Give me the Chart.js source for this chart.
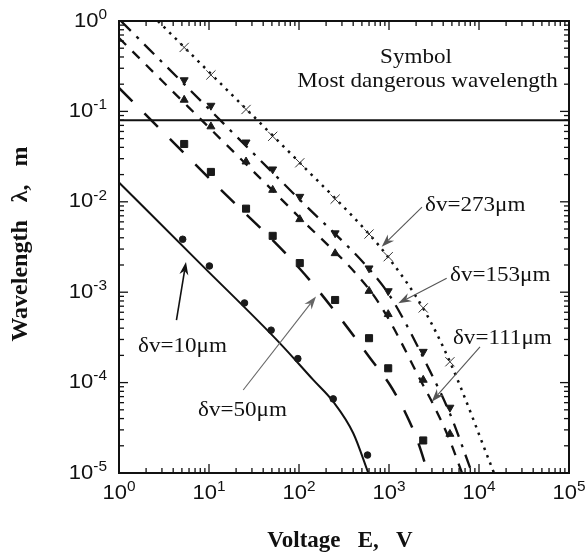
<!DOCTYPE html>
<html><head><meta charset="utf-8">
<script src="https://cdn.jsdelivr.net/npm/chart.js@4/dist/chart.umd.min.js"></script>
<style>html,body{margin:0;padding:0;background:#fff;}#wrap{width:585px;height:558px;}</style>
</head><body><div id="wrap"><canvas id="c" width="585" height="558"></canvas></div>
<script>
// ---------- data ----------
// measured points (voltage E [V], most dangerous wavelength λ [m])
const circE = [5.1, 10.1, 24.8, 49, 97, 240, 577];
const circL = [3.85e-3, 1.95e-3, 7.6e-4, 3.8e-4, 1.84e-4, 6.6e-5, 1.58e-5];
const markE = [5.3, 10.5, 25.8, 51, 102, 252, 600, 980, 2400, 4750];
const sqL    = [0.0436, 0.0214, 8.4e-3, 4.2e-3, 2.1e-3, 8.2e-4, 3.1e-4, 1.44e-4, 2.29e-5];
const triUpL = [0.134, 0.068, 0.0278, 0.0135, 6.4e-3, 2.69e-3, 1.03e-3, 5.7e-4, 1.07e-4, 2.7e-5];
const triDnL = [0.222, 0.116, 0.0455, 0.0229, 0.0114, 4.5e-3, 1.84e-3, 1.03e-3, 2.2e-4, 5.3e-5];
const crossL = [0.51, 0.253, 0.105, 0.053, 0.027, 0.0107, 4.4e-3, 2.47e-3, 6.7e-4, 1.7e-4];
// theoretical curves
const c10E  = [1, 8, 61.5, 144, 240, 401, 589];
const c10L  = [0.01636, 2.07e-3, 2.72e-4, 1.07e-4, 6.15e-5, 2.75e-5, 1e-5];
const c50E  = [1, 10, 102.6, 286, 615, 1026, 1506, 2100, 2710];
const c50L  = [0.1815, 0.0183, 1.807e-3, 5.19e-4, 1.87e-4, 9.4e-5, 4.73e-5, 2.2e-5, 1e-5];
const c111E = [1, 10, 102.6, 600, 975, 2388, 3006, 4720, 6470];
const c111L = [0.649, 0.0664, 6.62e-3, 1.08e-3, 5.19e-4, 9.4e-5, 6.1e-5, 2.32e-5, 1e-5];
const c153E = [1.05, 10, 102.6, 600, 975, 1506, 2415, 4720, 8360];
const c153L = [1, 0.1063, 0.01047, 1.81e-3, 9.8e-4, 4.68e-4, 1.87e-4, 4.61e-5, 1e-5];
const c273E = [2.71, 10, 102.6, 600, 975, 2388, 4760, 14690];
const c273L = [1, 0.273, 0.02685, 4.4e-3, 2.45e-3, 6.68e-4, 1.69e-4, 1e-5];
const dangerE = [1, 1e5];
const dangerL = [0.08, 0.08];
// tick label exponents
const xExp = [0, 1, 2, 3, 4, 5];
const yExp = [-5, -4, -3, -2, -1, 0];

const zip = (a, b) => a.map((v, i) => ({x: v, y: b[i]}));

// ---------- annotations (data coordinates) ----------
const notes = [
  {t: 'Symbol', E: 1995, L: 0.340, align: 'center'},
  {t: 'Most dangerous wavelength', E: 2679, L: 0.186, align: 'center'},
  {t: 'δv=273μm', E: 2512, L: 7.91e-3, align: 'left'},
  {t: 'δv=153μm', E: 4762, L: 1.33e-3, align: 'left'},
  {t: 'δv=111μm', E: 5140, L: 2.67e-4, align: 'left'},
  {t: 'δv=10μm', E: 1.626, L: 2.18e-4, align: 'left'},
  {t: 'δv=50μm', E: 7.55, L: 4.27e-5, align: 'left'}
];
const arrows = [
  {E1: 2327, L1: 8.75e-3, E2: 829, L2: 3.18e-3, c: '#555', w: 1.1},
  {E1: 4375, L1: 1.425e-3, E2: 1268, L2: 7.54e-4, c: '#555', w: 1.1},
  {E1: 10260, L1: 2.49e-4, E2: 2981, L2: 6.15e-5, c: '#555', w: 1.1},
  {E1: 4.35, L1: 4.92e-4, E2: 5.55, L2: 2.16e-3, c: '#111', w: 1.6},
  {E1: 24.0, L1: 8.28e-5, E2: 154.5, L2: 8.96e-4, c: '#666', w: 1.1}
];

function stretchText(ctx, s, x, y, sx, align) {
  const w = ctx.measureText(s).width * sx;
  let x0 = x;
  if (align === 'center') x0 = x - w / 2;
  else if (align === 'right') x0 = x - w;
  ctx.save(); ctx.translate(x0, y); ctx.scale(sx, 1);
  ctx.textAlign = 'left'; ctx.fillText(s, 0, 0); ctx.restore();
  return w;
}
function arrow(ctx, x1, y1, x2, y2, color, w) {
  const ang = Math.atan2(y2 - y1, x2 - x1);
  const L = 13, H = 4.5, N = 4;
  ctx.save(); ctx.strokeStyle = color; ctx.fillStyle = color; ctx.lineWidth = w;
  ctx.beginPath(); ctx.moveTo(x1, y1);
  ctx.lineTo(x2 - Math.cos(ang) * (L - N), y2 - Math.sin(ang) * (L - N)); ctx.stroke();
  ctx.translate(x2, y2); ctx.rotate(ang);
  ctx.beginPath(); ctx.moveTo(0, 0); ctx.lineTo(-L, -H); ctx.lineTo(-L + N, 0); ctx.lineTo(-L, H);
  ctx.closePath(); ctx.fill();
  ctx.restore();
}

const deco = {
  id: 'deco',
  afterDraw(chart) {
    const {ctx, chartArea: a, scales: {x, y}} = chart;
    ctx.save();
    ctx.strokeStyle = '#111'; ctx.fillStyle = '#111';
    // frame
    ctx.lineWidth = 2;
    ctx.strokeRect(a.left, a.top, a.right - a.left, a.bottom - a.top);
    // inward ticks on all four sides
    ctx.lineWidth = 1.3;
    const seg = (x1, y1, x2, y2) => { ctx.beginPath(); ctx.moveTo(x1, y1); ctx.lineTo(x2, y2); ctx.stroke(); };
    for (let d = 0; d < 5; d++) for (let m = 1; m < 10; m++) {
      if (d === 0 && m === 1) continue;
      const px = x.getPixelForValue(Math.pow(10, d) * m);
      const len = m === 1 ? 9 : 5;
      seg(px, a.bottom, px, a.bottom - len); seg(px, a.top, px, a.top + len);
    }
    for (let d = -5; d < 0; d++) for (let m = 1; m < 10; m++) {
      if (d === -5 && m === 1) continue;
      const py = y.getPixelForValue(Math.pow(10, d) * m);
      const len = m === 1 ? 9 : 5;
      seg(a.left, py, a.left + len, py); seg(a.right, py, a.right - len, py);
    }
    // tick labels 10^n
    const base = '20px "Liberation Sans", Arial, sans-serif';
    const sup = '14px "Liberation Sans", Arial, sans-serif';
    const sx = 1.1;
    ctx.textBaseline = 'middle';
    const label = (e, cx, cy, mode) => {
      ctx.font = base; const wb = ctx.measureText('10').width * sx;
      ctx.font = sup; const ws = ctx.measureText(String(e)).width * sx;
      const tot = wb + ws;
      const x0 = mode === 'center' ? cx - tot / 2 : cx - tot;
      ctx.font = base; stretchText(ctx, '10', x0, cy, sx, 'left');
      ctx.font = sup; stretchText(ctx, String(e), x0 + wb, cy - 6, sx, 'left');
    };
    xExp.forEach(e => label(e, x.getPixelForValue(Math.pow(10, e)), a.bottom + 20, 'center'));
    yExp.forEach(e => label(e, a.left - 12, y.getPixelForValue(Math.pow(10, e)), 'right'));
    // axis titles
    ctx.textBaseline = 'alphabetic';
    ctx.font = 'bold 23px "Liberation Serif", "Times New Roman", serif';
    ctx.textAlign = 'center';
    ctx.fillText('Voltage   E,   V', (a.left + a.right) / 2 - 4, a.bottom + 74);
    ctx.save();
    ctx.font = 'bold 24px "Liberation Serif", "Times New Roman", serif';
    ctx.translate(27, (a.top + a.bottom) / 2 - 3); ctx.rotate(-Math.PI / 2);
    ctx.fillText('Wavelength   λ,   m', 0, 0);
    ctx.restore();
    // annotations
    ctx.font = '21px "Liberation Serif", "Times New Roman", serif';
    notes.forEach(n => stretchText(ctx, n.t, x.getPixelForValue(n.E), y.getPixelForValue(n.L), 1.1, n.align));
    arrows.forEach(r => arrow(ctx, x.getPixelForValue(r.E1), y.getPixelForValue(r.L1),
      x.getPixelForValue(r.E2), y.getPixelForValue(r.L2), r.c, r.w));
    ctx.restore();
  }
};

const lineDs = (E, L, dash, w) => ({
  data: zip(E, L), showLine: true, pointRadius: 0, borderColor: '#111', backgroundColor: '#111',
  borderWidth: w, borderDash: dash, cubicInterpolationMode: 'monotone', fill: false, order: 2
});
const markDs = (E, L, style, r, extra) => Object.assign({
  data: zip(E, L), showLine: false, pointStyle: style, pointRadius: r,
  backgroundColor: '#1a1a1a', borderColor: '#1a1a1a', borderWidth: 1, order: 1
}, extra || {});

new Chart(document.getElementById('c'), {
  type: 'scatter',
  data: {datasets: [
    markDs(circE, circL, 'circle', 3.3),
    markDs(markE.slice(0, sqL.length), sqL, 'rect', 5),
    markDs(markE, triUpL, 'triangle', 4.6),
    markDs(markE, triDnL, 'triangle', 4.6, {rotation: 180}),
    markDs(markE, crossL, 'crossRot', 6.5, {borderColor: '#333'}),
    lineDs(c10E, c10L, [], 2),
    lineDs(c50E, c50L, [19, 17], 2.5),
    lineDs(c111E, c111L, [10, 9], 2.3),
    lineDs(c153E, c153L, [14, 8, 3, 8], 2.3),
    lineDs(c273E, c273L, [2.5, 5.5], 2.5),
    Object.assign(lineDs(dangerE, dangerL, [], 2), {cubicInterpolationMode: 'default', tension: 0})
  ]},
  options: {
    responsive: false, animation: false, devicePixelRatio: 1,
    layout: {padding: {left: 119, right: 16, top: 21, bottom: 85}},
    scales: {
      x: {type: 'logarithmic', min: 1, max: 1e5, display: false},
      y: {type: 'logarithmic', min: 1e-5, max: 1, display: false}
    },
    plugins: {legend: {display: false}, tooltip: {enabled: false}}
  },
  plugins: [deco]
});
</script></body></html>
